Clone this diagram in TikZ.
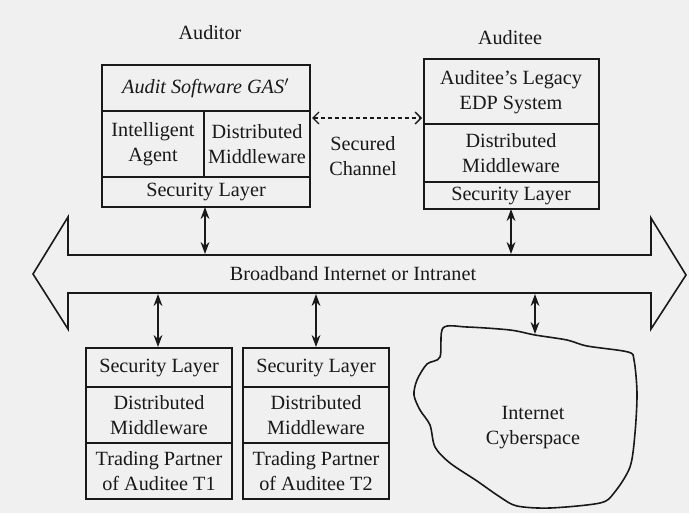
\documentclass[tikz,border=0pt]{standalone}
\usepackage{fontspec}
\setmainfont{Liberation Serif}
\usetikzlibrary{arrows.meta}
\definecolor{bg}{RGB}{240,240,240}
\definecolor{ink}{RGB}{25,25,25}
\begin{document}
\begin{tikzpicture}[x=0.5pt,y=-0.5pt,
  every node/.style={font=\fontsize{10.1}{12.5}\selectfont, text=ink, align=center, inner sep=0pt},
  ln/.style={draw=ink, line width=0.8pt},
  dbl/.style={ln, {Stealth[length=6pt,width=4.4pt]}-{Stealth[length=6pt,width=4.4pt]}},
  sec/.style={draw=ink, line width=0.7pt, dash pattern=on 2pt off 1.5pt, {Straight Barb[length=3pt,width=6pt]}-{Straight Barb[length=3pt,width=6pt]}}
]
\fill[bg] (0,0) rectangle (689,513);
\useasboundingbox (0,0) rectangle (689,513);

% titles
\node (tAuditor) at (210,33) {Auditor};
\node (tAuditee) at (510,38) {Auditee};

% Auditor box
\draw[ln] (102,65) rectangle (310,207);
\draw[ln] (102,111) -- (310,111);
\draw[ln] (102,177) -- (310,177);
\draw[ln] (204,111) -- (204,177);
\coordinate (audR) at (310,118);
\coordinate (audB) at (205,207);
\node (gas) at (206,88) {\textit{Audit Software GAS}$^{\prime}$};
\node (ia) at (153,144) {Intelligent\\Agent};
\node (dm1) at (257,144) {Distributed\\Middleware};
\node (sl1) at (206,192) {Security Layer};

% Auditee box
\draw[ln] (424,59) rectangle (599,209);
\draw[ln] (424,124) -- (599,124);
\draw[ln] (424,182) -- (599,182);
\coordinate (aueL) at (424,118);
\coordinate (aueB) at (511,209);
\node (edp) at (511,92) {Auditee's Legacy\\EDP System};
\node (dm2) at (511,153) {Distributed\\Middleware};
\node (sl2) at (511,196) {Security Layer};

% secured channel
\draw[sec] ([xshift=1pt]audR) -- ([xshift=-1pt]aueL);
\node (sc) at (363,156) {Secured\\Channel};

% broadband band
\draw[ln, line join=miter] (68,255) -- (68,217) -- (33,274) -- (68,329) -- (68,293) -- (651,293)
  -- (651,329) -- (686,275) -- (651,218) -- (651,255) -- cycle;
\node (bb) at (353,274) {Broadband Internet or Intranet};
\coordinate (bbT1) at (205,254);
\coordinate (bbT2) at (511,254);
\coordinate (bbB1) at (158,294);
\coordinate (bbB2) at (316,294);
\coordinate (bbB3) at (535,294);

% bottom boxes
\draw[ln] (86,348) rectangle (232,499);
\draw[ln] (86,387) -- (232,387);
\draw[ln] (86,443) -- (232,443);
\coordinate (t1T) at (158,347);
\node (sl3) at (159,368) {Security Layer};
\node (dm3) at (159,415) {Distributed\\Middleware};
\node (tp1) at (159,471) {Trading Partner\\of Auditee T1};

\draw[ln] (243,348) rectangle (389,499);
\draw[ln] (243,387) -- (389,387);
\draw[ln] (243,443) -- (389,443);
\coordinate (t2T) at (316,347);
\node (sl4) at (316,368) {Security Layer};
\node (dm4) at (316,415) {Distributed\\Middleware};
\node (tp2) at (316,471) {Trading Partner\\of Auditee T2};

% cloud
\draw[ln, line join=round] plot[smooth cycle, tension=0.5] coordinates {
 (443,328) (440,357) (427,364) (417,380) (414,395) (420,410) (430,425) (435,447)
 (450,463) (477,481) (500,497) (517,506) (550,508) (600,503) (614,493) (630,467)
 (635,433) (637,393) (634,360) (628,352) (587,346) (567,340) (535,335) (510,330) (467,327)};
\coordinate (cloudT) at (535,334);
\node (cy) at (533,428) {Internet\\Cyberspace};

% vertical double arrows
\draw[dbl] (audB) -- (bbT1);
\draw[dbl] (aueB) -- (bbT2);
\draw[dbl] (bbB1) -- (t1T);
\draw[dbl] (bbB2) -- (t2T);
\draw[dbl] (bbB3) -- (cloudT);
\end{tikzpicture}
\end{document}
